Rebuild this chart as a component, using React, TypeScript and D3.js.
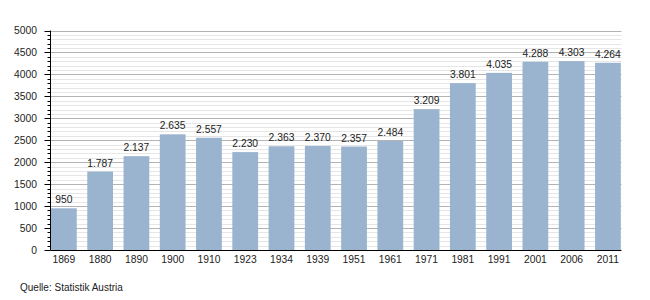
import React from "react";
import * as d3 from "d3";

const years = ["1869","1880","1890","1900","1910","1923","1934","1939","1951","1961","1971","1981","1991","2001","2006","2011"];
const values = [950,1787,2137,2635,2557,2230,2363,2370,2357,2484,3209,3801,4035,4288,4303,4264];
const yTicks = [0,500,1000,1500,2000,2500,3000,3500,4000,4500,5000];
const source = "Quelle: Statistik Austria";

const W = 650, H = 300;
const axisX = 50.5, plotRight = 621.5;
const fmt = (v: number) => {
  const s = String(v);
  return s.length > 3 ? s.slice(0, s.length - 3) + "." + s.slice(-3) : s;
};

export default function App() {
  const x = d3.scaleBand<string>().domain(years).range([51, 620.8]).paddingInner(0.29).paddingOuter(0).align(0);
  const y = d3.scaleLinear().domain([0, 5000]).range([250, 30.5]);
  const minor = d3.range(0, 5001, 100).filter(v => v % 500 !== 0);
  const font = "'Liberation Sans', Arial, sans-serif";
  return (
    <svg width={W} height={H} style={{ position: "absolute", left: 0, top: 0, background: "#fff" }} fontFamily={font}>
      {minor.map(v => (
        <line key={"m" + v} x1={axisX} x2={plotRight} y1={Math.round(y(v)) + 0.5} y2={Math.round(y(v)) + 0.5} stroke="#e6e6e6" strokeWidth={1} />
      ))}
      {yTicks.filter(v => v > 0).map(v => (
        <line key={"g" + v} x1={axisX} x2={plotRight} y1={Math.round(y(v)) + 0.5} y2={Math.round(y(v)) + 0.5} stroke="#b3b3b3" strokeWidth={1} />
      ))}
      {years.map((yr, i) => (
        <rect key={yr} x={x(yr)} width={x.bandwidth()} y={y(values[i])} height={y(0) - y(values[i])} fill="#9ab3cf" />
      ))}
      {years.map((yr, i) => (
        <text key={"v" + yr} x={(x(yr) as number) + x.bandwidth() / 2} y={y(values[i]) - 5} textAnchor="middle" fontSize={10.3} fill="#222">{fmt(values[i])}</text>
      ))}
      {minor.map(v => (
        <line key={"mt" + v} x1={axisX - 3} x2={axisX} y1={Math.round(y(v)) + 0.5} y2={Math.round(y(v)) + 0.5} stroke="#000" strokeWidth={1} />
      ))}
      {yTicks.map(v => (
        <line key={"t" + v} x1={axisX - 6} x2={axisX} y1={Math.round(y(v)) + 0.5} y2={Math.round(y(v)) + 0.5} stroke="#000" strokeWidth={1} />
      ))}
      {yTicks.map(v => (
        <text key={"l" + v} x={37} y={y(v) + 3.5} textAnchor="end" fontSize={10.3} fill="#222">{v}</text>
      ))}
      <line x1={axisX} x2={axisX} y1={y(5000)} y2={y(0) + 0.5} stroke="#000" strokeWidth={1} />
      <line x1={axisX} x2={plotRight} y1={y(0) + 0.5} y2={y(0) + 0.5} stroke="#000" strokeWidth={1} />
      {years.map(yr => (
        <text key={"x" + yr} x={(x(yr) as number) + x.bandwidth() / 2} y={263} textAnchor="middle" fontSize={10.3} fill="#222">{yr}</text>
      ))}
      <text x={20} y={291} fontSize={10} fill="#222">{source}</text>
    </svg>
  );
}
